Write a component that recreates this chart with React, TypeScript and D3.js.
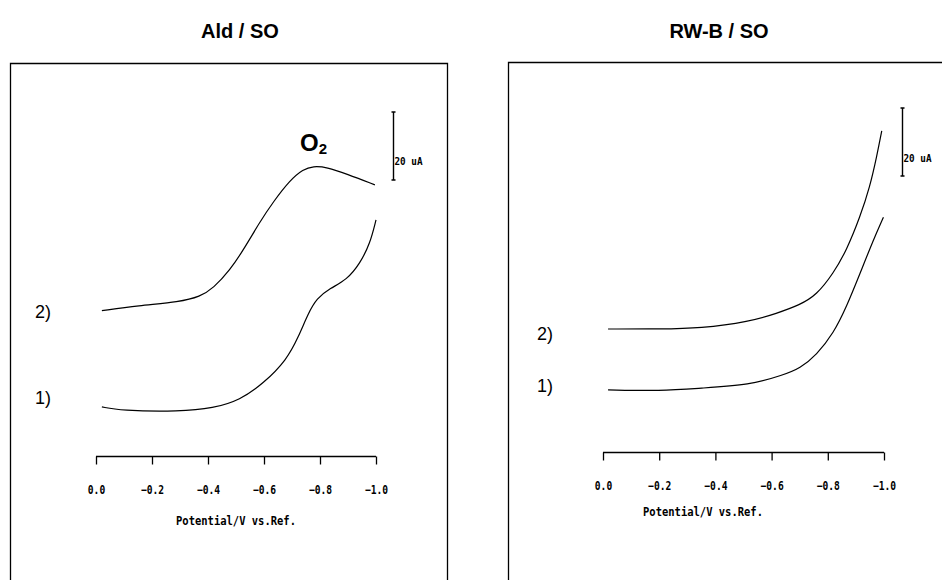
import { useEffect, useRef } from 'react'
import * as d3 from 'd3'

interface Pt {
  v: number // potential (V vs. Ref.)
  i: number // current (uA, arbitrary offset)
}

// tick values along the potential axis
const potentialTicks = [0, -0.2, -0.4, -0.6, -0.8, -1.0]

// Ald / SO, curve 2 (with the O2 wave)
const aldCurve2: Pt[] = [
  { v: -0.021, i: 35.1 }, { v: -0.15, i: 36.6 }, { v: -0.3, i: 37.7 },
  { v: -0.371, i: 39.2 }, { v: -0.419, i: 41.7 }, { v: -0.479, i: 47.1 },
  { v: -0.526, i: 52.9 }, { v: -0.586, i: 61.3 }, { v: -0.633, i: 67.1 },
  { v: -0.693, i: 73.5 }, { v: -0.74, i: 76.7 }, { v: -0.776, i: 77.6 },
  { v: -0.824, i: 77.3 }, { v: -0.895, i: 75.3 }, { v: -0.996, i: 72.1 },
]

// Ald / SO, curve 1
const aldCurve1: Pt[] = [
  { v: -0.021, i: 6.8 }, { v: -0.086, i: 5.7 }, { v: -0.3, i: 5.4 },
  { v: -0.419, i: 6.4 }, { v: -0.514, i: 8.8 }, { v: -0.598, i: 13.7 },
  { v: -0.681, i: 20.6 }, { v: -0.723, i: 27.4 }, { v: -0.758, i: 34.3 },
  { v: -0.788, i: 38.7 }, { v: -0.836, i: 41.7 }, { v: -0.895, i: 44.1 },
  { v: -0.943, i: 49.0 }, { v: -0.979, i: 54.9 }, { v: -1.0, i: 61.8 },
]

// RW-B / SO, curve 2
const rwbCurve2: Pt[] = [
  { v: -0.018, i: 29.7 }, { v: -0.205, i: 29.7 }, { v: -0.345, i: 29.9 },
  { v: -0.523, i: 31.9 }, { v: -0.618, i: 34.3 }, { v: -0.701, i: 36.8 },
  { v: -0.76, i: 39.7 }, { v: -0.82, i: 46.1 }, { v: -0.867, i: 52.9 },
  { v: -0.915, i: 62.7 }, { v: -0.95, i: 71.6 }, { v: -0.974, i: 80.4 },
  { v: -0.992, i: 88.0 },
]

// RW-B / SO, curve 1
const rwbCurve1: Pt[] = [
  { v: -0.018, i: 11.8 }, { v: -0.205, i: 11.5 }, { v: -0.345, i: 12.3 },
  { v: -0.523, i: 13.2 }, { v: -0.642, i: 16.2 }, { v: -0.701, i: 18.1 },
  { v: -0.76, i: 22.1 }, { v: -0.82, i: 28.4 }, { v: -0.867, i: 36.3 },
  { v: -0.915, i: 46.1 }, { v: -0.962, i: 55.9 }, { v: -0.998, i: 62.6 },
]

const monoFont = '"DejaVu Sans Mono", monospace'
const sansFont = 'Arial, "Liberation Sans", sans-serif'

export default function App() {
  const svgRef = useRef<SVGSVGElement>(null)

  useEffect(() => {
    if (!svgRef.current) return
    const svg = d3.select(svgRef.current)
    svg.selectAll('*').remove()

    const panels = [
      {
        title: 'Ald / SO', titleX: 240,
        frame: { x: 10.5, y: 63.5, w: 437 },
        xRange: [96, 376], axisY: 456.5, yBase: 430,
        curves: [aldCurve2, aldCurve1],
        labels: [{ t: '2)', y: 312 }, { t: '1)', y: 398 }], labelX: 35,
        bar: { x: 393.5, top: 112, bottom: 180, textY: 165 },
        xLabelX: 236, xLabelY: 525, tickLabelY: 490,
        o2: true,
      },
      {
        title: 'RW-B / SO', titleX: 719,
        frame: { x: 508.5, y: 62.5, w: 460 },
        xRange: [603, 884], axisY: 452.5, yBase: 430,
        curves: [rwbCurve2, rwbCurve1],
        labels: [{ t: '2)', y: 334 }, { t: '1)', y: 386 }], labelX: 537,
        bar: { x: 902.5, top: 108, bottom: 176, textY: 162 },
        xLabelX: 703, xLabelY: 516, tickLabelY: 486,
        o2: false,
      },
    ]

    panels.forEach(p => {
      const x = d3.scaleLinear().domain([0, -1]).range(p.xRange)
      // 20 uA = 68 px
      const y = d3.scaleLinear().domain([0, 100]).range([p.yBase, p.yBase - 340])

      // title
      svg.append('text')
        .attr('x', p.titleX).attr('y', 38)
        .attr('text-anchor', 'middle')
        .attr('font-family', sansFont).attr('font-weight', 'bold')
        .attr('font-size', 20)
        .text(p.title)

      // open frame (bottom runs off the page)
      svg.append('path')
        .attr('d', `M${p.frame.x},590V${p.frame.y}H${p.frame.x + p.frame.w}V590`)
        .attr('fill', 'none').attr('stroke', '#000').attr('stroke-width', 1.3)

      // curves
      const line = d3.line<Pt>()
        .x(d => x(d.v))
        .y(d => y(d.i))
        .curve(d3.curveBasis)
      p.curves.forEach(c => {
        svg.append('path')
          .attr('d', line(c))
          .attr('fill', 'none').attr('stroke', '#000').attr('stroke-width', 1.2)
      })

      // curve numbers
      p.labels.forEach(l => {
        svg.append('text')
          .attr('x', p.labelX).attr('y', l.y)
          .attr('dy', '0.35em')
          .attr('font-family', sansFont).attr('font-size', 18)
          .text(l.t)
      })

      // potential axis
      const axis = d3.axisBottom(x)
        .tickValues(potentialTicks)
        .tickSize(8)
        .tickPadding(20)
        .tickFormat(d => d3.format('.1f')(+d === 0 ? 0 : +d))
      const g = svg.append('g')
        .attr('transform', `translate(0,${p.axisY})`)
        .call(axis)
      g.select('.domain').attr('d', `M${p.xRange[0]},0H${p.xRange[1]}`)
        .attr('stroke', '#000').attr('stroke-width', 1.4)
      g.selectAll('.tick line').attr('stroke', '#000').attr('stroke-width', 1.3)
      g.selectAll<SVGTextElement, number>('.tick text')
        .attr('y', p.tickLabelY - p.axisY)
        .attr('dy', '0.35em')
        .attr('font-family', monoFont).attr('font-weight', 'bold')
        .attr('font-size', 12).attr('fill', '#000')
        .attr('textLength', function () { return (this.textContent || '').length * 5.8 })
        .attr('lengthAdjust', 'spacingAndGlyphs')

      svg.append('text')
        .attr('x', p.xLabelX).attr('y', p.xLabelY)
        .attr('text-anchor', 'middle')
        .attr('font-family', monoFont).attr('font-weight', 'bold')
        .attr('font-size', 11.5)
        .attr('textLength', 120).attr('lengthAdjust', 'spacingAndGlyphs')
        .text('Potential/V vs.Ref.')

      // 20 uA scale bar
      const b = p.bar
      svg.append('path')
        .attr('d', `M${b.x},${b.top}V${b.bottom}M${b.x - 2},${b.top}h4M${b.x - 2},${b.bottom}h4`)
        .attr('stroke', '#000').attr('stroke-width', 1.4)
      svg.append('text')
        .attr('x', b.x + 1).attr('y', b.textY)
        .attr('font-family', monoFont).attr('font-weight', 'bold')
        .attr('font-size', 11)
        .attr('textLength', 28).attr('lengthAdjust', 'spacingAndGlyphs')
        .text('20 uA')

      if (p.o2) {
        const o = svg.append('text')
          .attr('x', 300).attr('y', 151)
          .attr('font-family', sansFont).attr('font-weight', 'bold')
          .attr('font-size', 24)
        o.append('tspan').text('O')
        o.append('tspan').attr('font-size', 15).attr('dy', 3).text('2')
      }
    })
  }, [])

  return (
    <svg
      ref={svgRef}
      width={942}
      height={580}
      style={{ position: 'absolute', left: 0, top: 0, background: '#fff' }}
    />
  )
}
